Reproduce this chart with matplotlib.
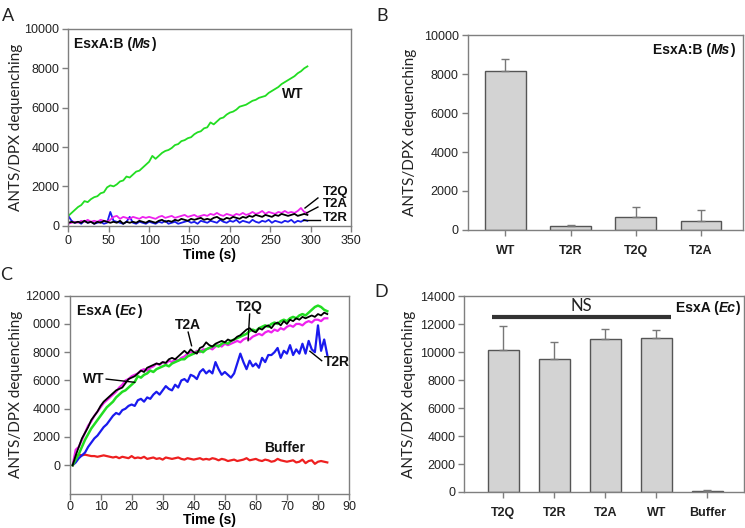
import numpy as np
import matplotlib
matplotlib.use("Agg")
import matplotlib.pyplot as plt
from matplotlib.offsetbox import TextArea, HPacker, AnchoredOffsetbox

# ---------------- Data ----------------
# Panel A: EsxA:B (Ms) kinetics (time step 4 s)
a_time = list(range(0, 300, 4))
a_wt = [500, 650, 800, 950, 1050, 1250, 1200, 1350, 1450, 1500, 1650, 1700, 1950, 2050, 2000,
        2100, 2250, 2300, 2500, 2450, 2600, 2750, 2800, 2950, 3100, 3250, 3550, 3400, 3550, 3700,
        3800, 3850, 3950, 4100, 4150, 4300, 4350, 4450, 4500, 4650, 4750, 4800, 4950, 5000, 5250,
        5150, 5300, 5450, 5500, 5650, 5750, 5800, 5900, 6050, 6100, 6150, 6250, 6350, 6400, 6500,
        6550, 6600, 6750, 6850, 6950, 7050, 7200, 7300, 7400, 7500, 7600, 7750, 7850, 8000, 8100]
a_t2q = [100, 150, 200, 150, 250, 200, 300, 200, 250, 200, 300, 250, 200, 300, 450,
         500, 350, 450, 400, 350, 450, 400, 350, 450, 400, 450, 400, 350, 450, 500,
         400, 450, 500, 400, 450, 500, 550, 450, 500, 550, 450, 500, 550, 500, 600,
         550, 650, 550, 500, 600, 550, 500, 600, 550, 650, 550, 600, 700, 600, 650,
         750, 600, 700, 650, 600, 700, 650, 750, 650, 700, 650, 750, 900, 700, 650]
a_t2a = [150, 200, 150, 200, 150, 250, 150, 200, 100, 200, 150, 250, 200, 150, 200,
         150, 250, 100, 200, 150, 200, 150, 250, 200, 150, 250, 200, 150, 250, 300,
         200, 250, 200, 300, 250, 350, 300, 250, 350, 300, 350, 400, 300, 350, 300,
         400, 450, 350, 300, 400, 350, 450, 400, 350, 450, 400, 500, 450, 550, 500,
         450, 550, 500, 450, 550, 500, 600, 550, 500, 550, 600, 500, 550, 600, 550]
a_t2r = [500, 250, 150, 200, 100, 250, 150, 200, 100, 150, 200, 100, 150, 700, 250,
         200, 150, 100, 200, 450, 150, 100, 200, 150, 100, 200, 150, 100, 200, 150,
         250, 100, 150, 200, 100, 150, 200, 250, 150, 200, 100, 250, 200, 150, 250,
         200, 150, 300, 200, 150, 250, 200, 300, 150, 250, 200, 150, 300, 200, 150,
         250, 200, 300, 150, 250, 200, 150, 250, 200, 300, 150, 250, 200, 300, 250]

# Panel B: EsxA:B (Ms) endpoint
b_labels = ["WT", "T2R", "T2Q", "T2A"]
b_values = [8150, 230, 680, 480]
b_errors = [600, 50, 520, 560]

# Panel C: EsxA (Ec) kinetics (time step 1 s)
c_time = list(range(1, 84))
c_t2a = [0, 700, 1300, 1900, 2300, 2700, 3200, 3500, 3800, 4200, 4500, 4700, 4900, 5100, 5300,
         5400, 5500, 5800, 6100, 6200, 6300, 6500, 6700, 6600, 6900, 7000, 7100, 7200, 7150, 7300,
         7250, 7500, 7600, 7500, 7700, 7900, 8100, 7900, 8200, 8000, 7900, 8300, 8400, 8700, 8500,
         8400, 8600, 8700, 8800, 8700, 8900, 8800, 8900, 9100, 9200, 9400, 9600, 9700, 9500, 9400,
         9700, 9600, 9800, 9900, 9700, 10000, 10100, 9900, 10200, 10000, 10300, 10200, 10400, 10300,
         10500, 10400, 10500, 10600, 10500, 10700, 10600, 10800, 10700]
c_wt = [0, 400, 800, 1300, 1800, 2200, 2600, 2900, 3200, 3500, 3800, 4100, 4300, 4500, 4800,
        5000, 5200, 5300, 5500, 5700, 5900, 6300, 6200, 6400, 6500, 6700, 6600, 6800, 6900, 7000,
        7100, 7000, 7200, 7300, 7400, 7500, 7500, 7700, 7800, 7900, 8000, 8100, 8000, 8200, 8300,
        8400, 8500, 8400, 8600, 8700, 8600, 8800, 8900, 9000, 9100, 9200, 9300, 9500, 9600, 9500,
        9700, 9800, 9900, 9800, 10000, 10100, 10000, 10200, 10300, 10200, 10400, 10500, 10400, 10600,
        10700, 10600, 10800, 11000, 11200, 11300, 11200, 11000, 10900]
c_t2q = [0, 1100, 1300, 1800, 2300, 2800, 3100, 3500, 3800, 4100, 4400, 4600, 4800, 5000, 5200,
         5500, 5700, 6000, 6100, 6300, 6400, 6500, 6700, 6800, 6700, 6900, 7000, 7200, 7100, 7300,
         7200, 7400, 7300, 7500, 7400, 7600, 7700, 7900, 8000, 7900, 8100, 8000, 8200, 8200, 8300,
         8200, 8400, 8500, 8400, 8600, 8500, 8600, 8700, 8800, 8700, 8900, 9000, 8900, 9100, 9200,
         9300, 9200, 9400, 9500, 9400, 9600, 9500, 9700, 9600, 9800, 9900, 9800, 10000, 10000,
         9900, 10100, 10200, 10100, 10300, 10300, 10200, 10400, 10400]
c_t2r = [0, 200, 500, 700, 900, 1300, 1600, 1900, 2100, 2400, 2700, 2900, 3200, 3500, 3700,
         3600, 3900, 4000, 4200, 4300, 4200, 4600, 4700, 4500, 4800, 4700, 5000, 5200, 5000, 5300,
         5600, 5400, 5300, 5700, 5500, 6000, 6100, 5900, 6400, 6300, 6100, 6600, 6800, 6500, 6700,
         6500, 7300, 6800, 6400, 6600, 6400, 6200, 6500, 7200, 7900, 7300, 6800, 7400, 7000, 7200,
         6900, 7600, 7300, 7800, 7800, 8000, 8300, 7600, 8100, 7900, 8500, 7800, 8200, 7900,
         8600, 7900, 8800, 8200, 8000, 9900, 8100, 8900, 7800]
c_buffer = [0, 600, 750, 700, 750, 700, 650, 650, 600, 650, 700, 650, 600, 550, 600,
            500, 600, 550, 500, 650, 500, 550, 500, 600, 450, 500, 550, 450, 500, 400,
            550, 500, 450, 500, 550, 450, 400, 500, 450, 400, 450, 500, 400, 450, 400,
            500, 450, 350, 450, 400, 300, 350, 400, 300, 350, 400, 500, 350, 400, 450,
            350, 300, 400, 350, 250, 300, 450, 350, 300, 250, 300, 350, 200, 250,
            400, 150, 300, 350, 100, 250, 300, 250, 200]

# Panel D: EsxA (Ec) endpoint
d_labels = ["T2Q", "T2R", "T2A", "WT", "Buffer"]
d_values = [10150, 9500, 10930, 11050, 100]
d_errors = [1710, 1240, 710, 520, 60]

# Panel C y tick labels (as printed)
c_yticks = [0, 2000, 4000, 6000, 8000, 10000, 12000]
c_yticklabels = ["0", "2000", "4000", "6000", "8000", "0000", "12000"]

# ---------------- Style ----------------
SANS = "Liberation Sans"
LBL = "Lato"
plt.rcParams["font.family"] = SANS
SPINE = "#7f7f7f"
GREEN = "#22dd22"
MAGENTA = "#ee22ee"
BLUE = "#1a1aee"
RED = "#ee2020"

fig = plt.figure(figsize=(7.45, 5.28), dpi=100)


def style_axes(ax, ylab_x):
    for s in ax.spines.values():
        s.set_color(SPINE)
        s.set_linewidth(1.0)
    ax.tick_params(direction="out", length=4, width=1, color=SPINE,
                   labelsize=9, labelcolor="#222222", pad=2.5)
    ax.set_ylabel("ANTS/DPX dequenching", fontfamily=LBL, fontsize=11, color="#222222")
    ax.yaxis.set_label_coords(ylab_x, 0.5)


def title_box(ax, pre, it, post, x, y, loc):
    kw = dict(fontsize=10, fontweight="bold", color="#111111", family=SANS)
    t1 = TextArea(pre, textprops=kw)
    t2 = TextArea(it, textprops=dict(kw, fontstyle="italic"))
    t3 = TextArea(post, textprops=kw)
    box = HPacker(children=[t1, t2, t3], align="baseline", pad=0, sep=0)
    anc = AnchoredOffsetbox(loc=loc, child=box, pad=0, borderpad=0, frameon=False,
                            bbox_to_anchor=(x, y), bbox_transform=ax.transAxes)
    ax.add_artist(anc)


bold = dict(fontsize=10, fontweight="bold", color="#111111", ha="center", va="center")

# ---------------- Panel A ----------------
axA = fig.add_axes([0.0917, 0.5725, 0.3795, 0.3726])
axA.plot(a_time, a_t2r, color=BLUE, lw=1.3)
axA.plot(a_time, a_t2q, color=MAGENTA, lw=1.3)
axA.plot(a_time, a_t2a, color="black", lw=1.3)
axA.plot(a_time, a_wt, color=GREEN, lw=1.3)
axA.set_xlim(0, 350)
axA.set_ylim(0, 10000)
axA.set_xticks(range(0, 351, 50))
axA.set_yticks(range(0, 10001, 2000))
style_axes(axA, -0.16)
axA.set_xlabel("Time (s)", fontsize=10, fontweight="bold", labelpad=1)
title_box(axA, "EsxA:B (", "Ms", ")", 0.02, 0.925, "center left")
axA.text(278, 6700, "WT", **bold)
sm = dict(bold, fontsize=9.5)
axA.text(331, 1700, "T2Q", **sm)
axA.text(331, 1090, "T2A", **sm)
axA.text(331, 370, "T2R", **sm)
axA.plot([293, 309], [900, 1410], color="black", lw=1)
axA.plot([295, 309], [650, 950], color="black", lw=1)
axA.plot([291, 312], [290, 290], color="black", lw=1)

# ---------------- Panel B ----------------
axB = fig.add_axes([0.6278, 0.5644, 0.3695, 0.3693])
xb = np.arange(len(b_labels))
axB.bar(xb, b_values, width=0.62, color="#d3d3d3", edgecolor="#555555", linewidth=1,
        yerr=[[0] * len(b_errors), b_errors], error_kw=dict(ecolor="#777777", elinewidth=1,
                                                             capsize=3, capthick=1))
axB.set_xlim(-0.58, 3.65)
axB.set_ylim(0, 10000)
axB.set_yticks(range(0, 10001, 2000))
axB.set_xticks(xb)
axB.set_xticklabels(b_labels, fontweight="bold")
style_axes(axB, -0.184)
axB.tick_params(axis="x", pad=7)
title_box(axB, "EsxA:B (", "Ms", ")", 0.97, 0.923, "center right")

# ---------------- Panel C ----------------
axC = fig.add_axes([0.0933, 0.0653, 0.3752, 0.3747])
axC.plot(c_time, c_buffer, color=RED, lw=1.6)
axC.plot(c_time, c_t2r, color=BLUE, lw=1.6)
axC.plot(c_time, c_t2q, color=MAGENTA, lw=1.6)
axC.plot(c_time, c_wt, color=GREEN, lw=1.8)
axC.plot(c_time, c_t2a, color="black", lw=1.3)
axC.set_xlim(0, 90)
axC.set_ylim(-2000, 12000)
axC.set_xticks(range(0, 91, 10))
axC.set_yticks(c_yticks)
axC.set_yticklabels(c_yticklabels)
style_axes(axC, -0.166)
axC.tick_params(axis="x", pad=1.5)
axC.set_xlabel("Time (s)", fontsize=10, fontweight="bold", labelpad=0)
title_box(axC, "EsxA (", "Ec", ")", 0.027, 0.924, "center left")
axC.text(38.2, 9950, "T2A", **bold)
axC.plot([38.2, 39.3], [9420, 8460], color="black", lw=1)
axC.text(58, 11180, "T2Q", **bold)
axC.plot([58, 57.5], [10700, 8820], color="black", lw=1)
axC.text(7.8, 6100, "WT", **bold)
axC.plot([11.8, 21], [6100, 5870], color="black", lw=1)
axC.text(86, 7290, "T2R", **bold)
axC.plot([77.4, 81.2], [8070, 7400], color="black", lw=1)
axC.text(69.4, 1200, "Buffer", **bold)

# ---------------- Panel D ----------------
axD = fig.add_axes([0.6232, 0.0682, 0.3748, 0.3706])
xd = np.arange(len(d_labels))
axD.bar(xd, d_values, width=0.6, color="#d3d3d3", edgecolor="#555555", linewidth=1,
        yerr=[[0] * len(d_errors), d_errors], error_kw=dict(ecolor="#777777", elinewidth=1,
                                                             capsize=3, capthick=1))
axD.set_xlim(-0.765, 4.71)
axD.set_ylim(0, 14000)
axD.set_yticks(range(0, 14001, 2000))
axD.set_xticks(xd)
axD.set_xticklabels(d_labels, fontweight="bold")
style_axes(axD, -0.174)
axD.tick_params(axis="x", pad=7)
axD.plot([-0.22, 3.28], [12520, 12520], color="#333333", lw=3, solid_capstyle="butt")
axD.text(1.53, 12750, "NS", fontfamily=LBL, fontsize=12, color="#222222",
         ha="center", va="bottom")
title_box(axD, "EsxA (", "Ec", ")", 0.987, 0.942, "center right")

# ---------------- Panel letters ----------------
for lab, x, y in [("A", 0.003, 0.985), ("B", 0.505, 0.985), ("C", 0.0, 0.494), ("D", 0.503, 0.462)]:
    fig.text(x, y, lab, fontfamily=LBL, fontsize=13, color="#222222", ha="left", va="top")

fig.savefig("out.png", dpi=100)
